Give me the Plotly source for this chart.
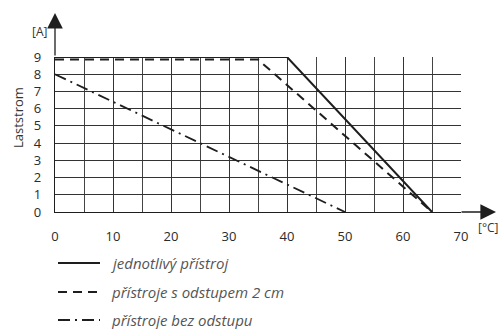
import plotly.graph_objects as go

# Data
temp_single = [0, 40, 65]
current_single = [9, 9, 0]
temp_spaced = [0, 35, 65]
current_spaced = [8.85, 8.85, 0]
temp_nospace = [0, 50]
current_nospace = [8, 0]

x_ticks = [0, 10, 20, 30, 40, 50, 60, 70]
y_ticks = [0, 1, 2, 3, 4, 5, 6, 7, 8, 9]
legend_labels = ["jednotlivý přístroj", "přístroje s odstupem 2 cm", "přístroje bez odstupu"]

W, H = 501, 329
L, R, T, B = 55, 40, 57, 117
PW, PH = W - L - R, H - T - B

def px2paper(px, py):
    return (px - L) / PW, (H - B - py) / PH

FONT = "Open Sans"
LINE = "#1e1e1e"
dashes = ["solid", "9px,6px", "12px,5px,2px,5px"]

fig = go.Figure()
fig.add_trace(go.Scatter(x=temp_single, y=current_single, mode="lines",
                         line=dict(color=LINE, width=2, dash=dashes[0]), cliponaxis=False))
fig.add_trace(go.Scatter(x=temp_spaced, y=current_spaced, mode="lines",
                         line=dict(color=LINE, width=2, dash=dashes[1]), cliponaxis=False))
fig.add_trace(go.Scatter(x=temp_nospace, y=current_nospace, mode="lines",
                         line=dict(color=LINE, width=1.8, dash=dashes[2]), cliponaxis=False))

shapes = []
annotations = []
# legend built from shapes + annotations
rows_y = [263, 292, 320]
for lbl, d, ry in zip(legend_labels, dashes, rows_y):
    x0, y0 = px2paper(58, ry)
    x1, _ = px2paper(100, ry)
    shapes.append(dict(type="line", xref="paper", yref="paper", x0=x0, x1=x1, y0=y0, y1=y0,
                       line=dict(color=LINE, width=2 if d != dashes[2] else 1.8, dash=d)))
    tx, ty = px2paper(109, ry)
    annotations.append(dict(xref="paper", yref="paper", x=tx, y=ty, xanchor="left", yanchor="middle",
                            text="<i>%s</i>" % lbl, showarrow=False,
                            font=dict(family=FONT, size=15, color="#555555")))

# axis arrows
ax_tip_x, ax_tip_y = px2paper(55, 13)
annotations.append(dict(xref="paper", yref="paper", x=ax_tip_x, y=ax_tip_y, ax=0, ay=44,
                        text="", showarrow=True, arrowhead=2, arrowsize=2.4, arrowwidth=1.3,
                        arrowcolor=LINE))
bx, by = px2paper(496, H - B)
annotations.append(dict(xref="paper", yref="paper", x=bx, y=by, ax=-36, ay=0,
                        text="", showarrow=True, arrowhead=2, arrowsize=2.4, arrowwidth=1.3,
                        arrowcolor=LINE))

# unit labels
ux, uy = px2paper(39, 32)
annotations.append(dict(xref="paper", yref="paper", x=ux, y=uy, text="[A]", showarrow=False,
                        xanchor="center", yanchor="middle",
                        font=dict(family=FONT, size=12, color="#333333")))
cx, cy = px2paper(489, 227)
annotations.append(dict(xref="paper", yref="paper", x=cx, y=cy, text="[°C]", showarrow=False,
                        xanchor="center", yanchor="middle",
                        font=dict(family=FONT, size=12, color="#333333")))
lx, ly = px2paper(18, 118)
annotations.append(dict(xref="paper", yref="paper", x=lx, y=ly, text="Laststrom", showarrow=False,
                        xanchor="center", yanchor="middle",
                        textangle=-90, font=dict(family=FONT, size=13, color="#333333")))

fig.update_layout(
    width=W, height=H,
    margin=dict(l=L, r=R, t=T, b=B),
    paper_bgcolor="white", plot_bgcolor="white",
    showlegend=False,
    shapes=shapes, annotations=annotations,
    font=dict(family=FONT, size=13, color="#2a2a2a"),
)
fig.update_xaxes(range=[0, 70], tickvals=x_ticks, ticktext=[str(v) for v in x_ticks],
                 showgrid=True, gridcolor="#333333", gridwidth=1,
                 minor=dict(dtick=5, showgrid=True, gridcolor="#444444", gridwidth=1),
                 showline=True, linecolor=LINE, linewidth=1.3, mirror=False,
                 ticks="", ticklabelstandoff=12, zeroline=False, fixedrange=True)
fig.update_yaxes(range=[0, 9], tickvals=y_ticks, ticktext=[str(v) for v in y_ticks],
                 showgrid=True, gridcolor="#333333", gridwidth=1,
                 showline=True, linecolor=LINE, linewidth=1.3, mirror=False,
                 ticks="", ticklabelstandoff=10, zeroline=False, fixedrange=True)

fig.write_html("out.html", post_script="document.body.style.margin='0';",
               config={"displayModeBar": False})
